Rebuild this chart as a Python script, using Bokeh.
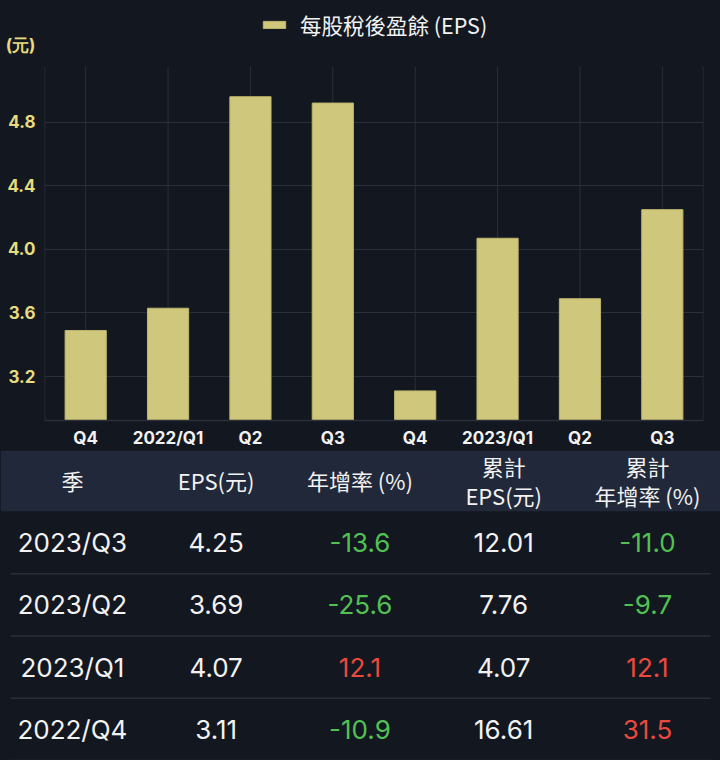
from bokeh.plotting import figure
from bokeh.models import (ColumnDataSource, Range1d, Legend, LegendItem,
                          FixedTicker, CustomJSTickFormatter)
from bokeh.core.properties import value
from bokeh.embed import file_html
from bokeh.resources import INLINE

# chart data
tick_labels = ["Q4", "2022/Q1", "Q2", "Q3", "Q4", "2023/Q1", "Q2", "Q3"]
eps = [3.49, 3.63, 4.96, 4.92, 3.11, 4.07, 3.69, 4.25]
y_ticks = [3.2, 3.6, 4.0, 4.4, 4.8]
unit_label = "(元)"
legend_label = "每股稅後盈餘 (EPS)"

# table data
headers = ["季", "EPS(元)", "年增率 (%)", "累計\nEPS(元)", "累計\n年增率 (%)"]
table_quarters = ["2023/Q3", "2023/Q2", "2023/Q1", "2022/Q4"]
table_eps = [4.25, 3.69, 4.07, 3.11]
table_yoy = [-13.6, -25.6, 12.1, -10.9]
table_cum_eps = [12.01, 7.76, 4.07, 16.61]
table_cum_yoy = [-11.0, -9.7, 12.1, 31.5]

BG = "#131720"
GRID = "#2a2f3a"
BAR = "#cfc77b"
YEL = "#e6dc7e"
WHITE = "#f2f2f2"
GREEN = "#52c152"
RED = "#ea4a3e"
HEAD_BG = "#212839"
CJK = "Noto Sans CJK TC"
NUM = "Inter"

Y_MIN, GRID_TOP, Y_MAX = 2.924, 5.15, 5.565
UNIT_Y = 5.283

# ---- bar chart ----
idx = list(range(len(eps)))
p = figure(x_range=Range1d(-0.5, len(eps) - 0.5), y_range=Range1d(Y_MIN, Y_MAX),
           width=720, height=450, output_backend="svg", toolbar_location=None,
           tools="", min_border_left=44, min_border_right=17,
           min_border_top=0, min_border_bottom=29)
p.background_fill_color = BG
p.border_fill_color = BG
p.outline_line_color = None

# vertical grid lines and frame edges stop below the legend area
p.segment(x0=idx, x1=idx, y0=[Y_MIN] * len(idx), y1=[GRID_TOP] * len(idx),
          line_color=GRID, line_width=1, level="underlay")
edges = [p.x_range.start, p.x_range.end]
p.segment(x0=edges, x1=edges, y0=[Y_MIN] * 2, y1=[GRID_TOP] * 2,
          line_color=GRID, line_width=1.5, level="underlay")

bars = p.vbar(x=idx, top=eps, bottom=0, width=0.5,
              fill_color=BAR, line_color="#bdb56c", line_width=1)

p.xgrid.visible = False
p.ygrid.grid_line_color = GRID
p.ygrid.ticker = FixedTicker(ticks=y_ticks)

p.yaxis.ticker = FixedTicker(ticks=y_ticks + [UNIT_Y])
p.yaxis.formatter = CustomJSTickFormatter(
    args=dict(unit=unit_label, top=max(y_ticks)),
    code="return tick > top + 0.2 ? unit : tick.toFixed(1);")
p.yaxis.major_label_text_color = YEL
p.yaxis.major_label_text_font = NUM
p.yaxis.major_label_text_font_size = "17px"
p.yaxis.major_label_text_font_style = "bold"
p.yaxis.major_tick_out = 0
p.yaxis.major_tick_in = 0
p.yaxis.minor_tick_out = 0
p.yaxis.minor_tick_in = 0
p.yaxis.major_label_standoff = 9
p.yaxis.axis_line_color = None

p.xaxis.ticker = FixedTicker(ticks=idx)
p.xaxis.formatter = CustomJSTickFormatter(
    args=dict(labels=tick_labels),
    code="const i = Math.round(tick); return (i >= 0 && i < labels.length) ? labels[i] : '';")
p.xaxis.major_label_text_color = WHITE
p.xaxis.major_label_text_font = NUM
p.xaxis.major_label_text_font_size = "17px"
p.xaxis.major_label_text_font_style = "bold"
p.xaxis.major_tick_out = 0
p.xaxis.major_tick_in = 0
p.xaxis.minor_tick_out = 0
p.xaxis.minor_tick_in = 0
p.xaxis.major_label_standoff = 7
p.xaxis.axis_line_color = GRID
p.xaxis.axis_line_width = 1.5

legend = Legend(items=[LegendItem(label=legend_label, renderers=[bars])],
                location=(216, 380), orientation="horizontal",
                background_fill_alpha=0, border_line_color=None,
                glyph_width=28, glyph_height=9, label_height=24,
                label_standoff=12, padding=0, margin=0,
                label_text_color=WHITE, label_text_font=CJK,
                label_text_font_size="21.5px")
p.add_layout(legend, "center")

# ---- table ----
n_rows = len(table_quarters)
t = figure(x_range=Range1d(-0.5, 4.508), y_range=Range1d(3.498, -1.476),
           width=720, height=310, output_backend="svg", toolbar_location=None,
           tools="", min_border=0)
t.background_fill_color = BG
t.border_fill_color = BG
t.outline_line_color = None
t.axis.visible = False
t.grid.visible = False

t.quad(left=[t.x_range.start], right=[t.x_range.end], top=[t.y_range.end],
       bottom=[-0.5], fill_color=HEAD_BG, line_color=None)

cols = list(range(len(headers)))
t.text(x=cols, y=[-1] * len(headers), text=headers, text_align="center",
       text_baseline="middle", text_color=WHITE, text_font=value(CJK),
       text_font_size="22px", text_line_height=0.9)


def pct_color(v):
    return GREEN if v < 0 else RED


rows = list(range(n_rows))
cells = ColumnDataSource(dict(
    x=[c for c in cols for _ in rows],
    y=rows * len(cols),
    text=(table_quarters
          + ["%.2f" % v for v in table_eps]
          + ["%.1f" % v for v in table_yoy]
          + ["%.2f" % v for v in table_cum_eps]
          + ["%.1f" % v for v in table_cum_yoy]),
    color=([WHITE] * n_rows * 2 + [pct_color(v) for v in table_yoy]
           + [WHITE] * n_rows + [pct_color(v) for v in table_cum_yoy]),
))
t.text(x="x", y="y", text="text", text_color="color", source=cells,
       text_align="center", text_baseline="middle", text_font=value(NUM),
       text_font_size="26px")

t.segment(x0=[-0.43] * n_rows, x1=[4.439] * n_rows,
          y0=[r + 0.5 for r in rows], y1=[r + 0.5 for r in rows],
          line_color=GRID, line_width=1.5)

html = file_html([p, t], INLINE)
html = html.replace("<head>", "<head><style>html,body{background:%s;}</style>" % BG, 1)
open("out.html", "w").write(html)
